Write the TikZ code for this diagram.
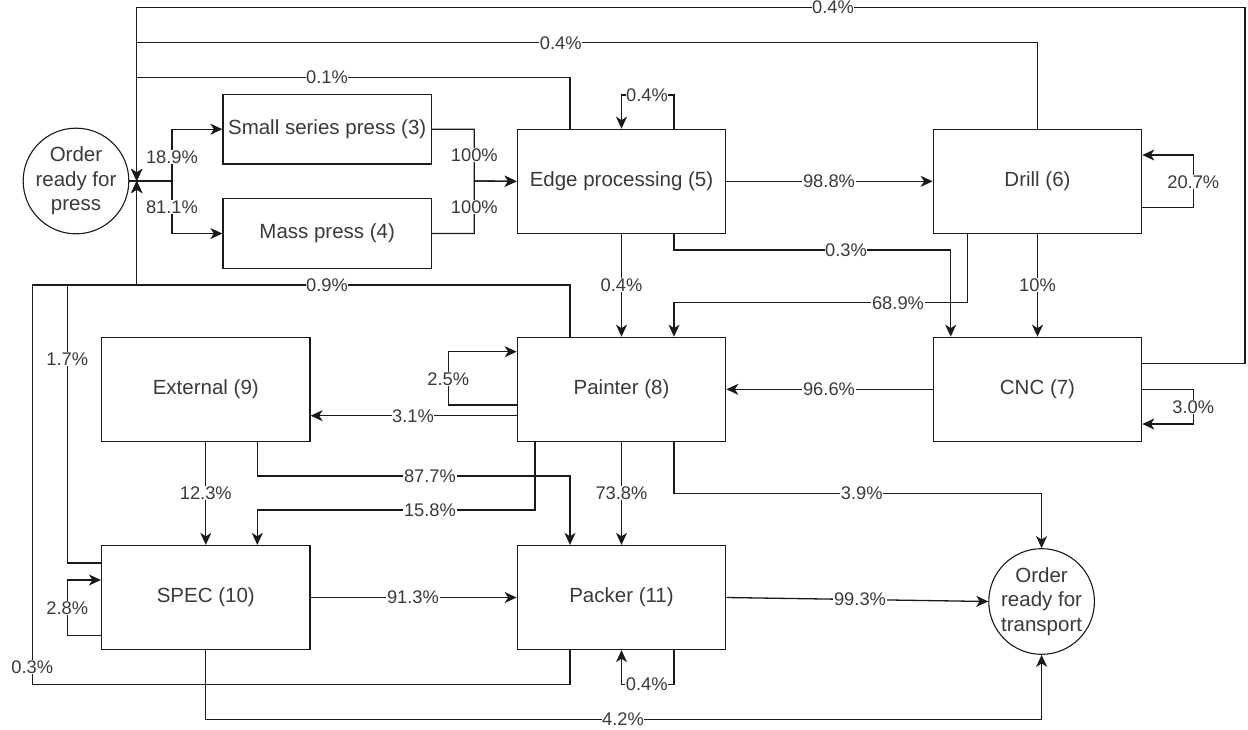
\documentclass[tikz,border=0pt]{standalone}
\usepackage{fontspec}
\setmainfont{Liberation Sans}
\usetikzlibrary{arrows.meta}
\definecolor{linec}{HTML}{1A1A1A}
\definecolor{textc}{HTML}{3A3A3A}
\begin{document}
\begin{tikzpicture}[x=1pt,y=-1pt,
  box/.style={draw=linec, line width=1.3pt, minimum width=208.4pt, minimum height=104pt, inner sep=0pt, font=\fontsize{20.5}{24.5}\selectfont, text=textc},
  sbox/.style={box, minimum height=69.7pt},
  circ/.style={draw=linec, line width=1.1pt, circle, inner sep=0pt, align=center, font=\fontsize{20.5}{24.5}\selectfont, text=textc},
  arr/.style={draw=linec, line width=1.3pt, -{Stealth[length=12pt,width=11pt,inset=3.5pt]}},
  lbl/.style={fill=white, inner sep=0.6pt, font=\fontsize{18.3}{22}\selectfont, text=textc}]
\useasboundingbox (0,0) rectangle (1248,729);
\fill[white] (0,0) rectangle (1248,729);

% nodes
\node[circ, minimum size=87pt] (press) at (76,181) {Order\\ready for\\press};
\node[sbox] (small) at (327.2,129.2) {Small series press (3)};
\node[sbox] (mass) at (327.2,233.5) {Mass press (4)};
\node[box] (edge) at (621.5,181.3) {Edge processing (5)};
\node[box] (drill) at (1037.5,181.3) {Drill (6)};
\node[box] (painter) at (621.5,389.3) {Painter (8)};
\node[box] (cnc) at (1037.5,389.3) {CNC (7)};
\node[box] (ext) at (205.8,389.5) {External (9)};
\node[box] (spec) at (205.8,597.5) {SPEC (10)};
\node[box] (packer) at (621.5,597.5) {Packer (11)};
\node[circ, minimum size=96pt] (transport) at (1041.6,601.5) {Order\\ready for\\transport};
\coordinate (j) at (136.7,181);

% press split
\draw[arr] (press.east) -- (172,181) |- (small.west);
\draw[arr] (press.east) -- (172,181) |- (mass.west);
\node[lbl] at (172,157) {18.9\%};
\node[lbl] at (172,207) {81.1\%};

% presses to edge
\draw[arr] (small.east) -| (474.3,181) -- (edge.west);
\draw[arr] (mass.east) -| (474.3,181) -- (edge.west);
\node[lbl] at (474.3,155) {100\%};
\node[lbl] at (474.3,207.3) {100\%};

% edge processing
\draw[arr] (edge.east) -- (drill.west);
\node[lbl] at (829,181.3) {98.8\%};
\draw[arr] (edge.north -| 674,0) |- (621.5,95) -- (edge.north);
\node[lbl] at (647,95) {0.4\%};
\draw[arr] (edge.south -| 674,0) |- (950.7,250) -- (cnc.north -| 950.7,0);
\node[lbl] at (846,250) {0.3\%};
\draw[arr] (edge.south) -- (painter.north);
\node[lbl] at (621.5,285) {0.4\%};
\draw[arr] (edge.north -| 570,0) |- (136.7,77.3) -- (j);
\node[lbl] at (327,77.3) {0.1\%};

% drill
\draw[arr] (drill.north) |- (136.7,42.7) -- (j);
\node[lbl] at (560.7,42.7) {0.4\%};
\draw[arr] (drill.east |- 0,207.3) -- (1193.3,207.3) |- (drill.east |- 0,155);
\node[lbl] at (1193.3,181.7) {20.7\%};
\draw[arr] (drill.south) -- (cnc.north);
\node[lbl] at (1037.5,285) {10\%};
\draw[arr] (drill.south -| 967.7,0) |- (674,302.7) -- (painter.north -| 674,0);
\node[lbl] at (898,302.7) {68.9\%};

% cnc
\draw[arr] (cnc.west) -- (painter.east);
\node[lbl] at (829,389.3) {96.6\%};
\draw[arr] (cnc.east) -- (1193.3,389.3) |- (cnc.east |- 0,424);
\node[lbl] at (1193.3,406.7) {3.0\%};
\draw[arr] (cnc.east |- 0,363.3) -- (1245,363.3) |- (136.7,7.3) -- (j);
\node[lbl] at (833,7.3) {0.4\%};

% painter
\draw[arr] (painter.west |- 0,405) -- (448.3,405) |- (painter.west |- 0,351.7);
\node[lbl] at (448.3,379) {2.5\%};
\draw[arr] (painter.west |- 0,415.7) -- (ext.east |- 0,415.7);
\node[lbl] at (413,415.7) {3.1\%};
\draw[arr] (painter.north -| 570,0) |- (136.7,285) -- (j);
\node[lbl] at (327,285) {0.9\%};
\draw[arr] (painter.south -| 535,0) |- (257.3,510) -- (spec.north -| 257.3,0);
\node[lbl] at (430,510) {15.8\%};
\draw[arr] (painter.south) -- (packer.north);
\node[lbl] at (621.5,493.3) {73.8\%};
\draw[arr] (painter.south -| 674,0) |- (1041.6,493.3) -- (transport.north);
\node[lbl] at (861.7,493.3) {3.9\%};

% external
\draw[arr] (ext.south) -- (spec.north);
\node[lbl] at (205.8,493) {12.3\%};
\draw[arr] (ext.south -| 257.3,0) |- (570,476) -- (packer.north -| 570,0);
\node[lbl] at (430,476) {87.7\%};

% spec
\draw[arr] (spec.east) -- (packer.west);
\node[lbl] at (413,597.5) {91.3\%};
\draw[arr] (spec.west |- 0,635.7) -- (67.3,635.7) |- (spec.west |- 0,580);
\node[lbl] at (67.3,608) {2.8\%};
\draw[arr] (spec.west |- 0,563) -- (67.3,563) |- (136.7,285) -- (j);
\node[lbl] at (67.3,359) {1.7\%};
\draw[arr] (spec.south) |- (1041.6,719.3) -- (transport.south);
\node[lbl] at (623,719.3) {4.2\%};

% packer
\draw[arr] (packer.east) -- (transport.west);
\node[lbl] at (860,599.5) {99.3\%};
\draw[arr] (packer.south -| 674,0) |- (621.5,684.3) -- (packer.south);
\node[lbl] at (646.7,684.3) {0.4\%};
\draw[arr] (packer.south -| 570,0) |- (32.3,684.3) |- (136.7,285) -- (j);
\node[lbl] at (32.3,667) {0.3\%};
\end{tikzpicture}
\end{document}
